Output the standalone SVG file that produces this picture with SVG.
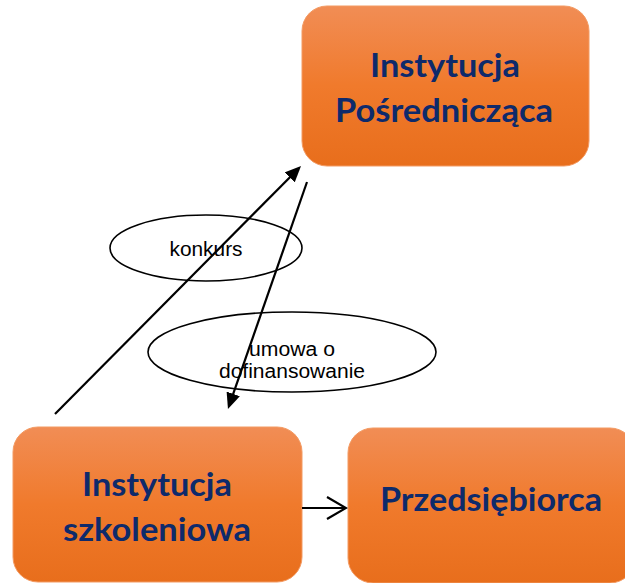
<svg xmlns="http://www.w3.org/2000/svg" width="625" height="583" viewBox="0 0 625 583">
  <defs>
    <linearGradient id="orange" x1="0" y1="0" x2="0" y2="1">
      <stop offset="0" stop-color="#F18D55"/>
      <stop offset="0.5" stop-color="#F07A2C"/>
      <stop offset="1" stop-color="#E86E1C"/>
    </linearGradient>
    <marker id="solid" viewBox="0 0 16 14" refX="8" refY="7" markerWidth="16" markerHeight="14" markerUnits="userSpaceOnUse" orient="auto">
      <path d="M0,0 L16,7 L0,14 z" fill="#000"/>
    </marker>
    <marker id="open" viewBox="0 0 22 24" refX="20" refY="12" markerWidth="22" markerHeight="24" markerUnits="userSpaceOnUse" orient="auto">
      <path d="M1,1 L20,12 L1,23" fill="none" stroke="#000" stroke-width="2.2"/>
    </marker>
  </defs>
  <style>
    .box { fill: url(#orange); stroke: #F39A62; stroke-width: 1; }
    .title { font-family: Lato, "Open Sans", "Liberation Sans", sans-serif; font-weight: bold; font-size: 33px; fill: #0E2A6B; text-anchor: middle; }
    .oval { fill: #fff; stroke: #000; stroke-width: 1.6; }
    .label { font-family: "Liberation Sans", Arial, sans-serif; font-size: 20px; fill: #000; text-anchor: middle; }
    .conn { stroke: #000; stroke-width: 2.2; fill: none; }
  </style>

  <g id="ip">
    <rect class="box" x="302" y="6" width="287" height="160" rx="25" ry="25"/>
    <text class="title" x="445" y="77" textLength="150" lengthAdjust="spacingAndGlyphs">Instytucja</text>
    <text class="title" x="444" y="122" textLength="218" lengthAdjust="spacingAndGlyphs">Pośrednicząca</text>
  </g>

  <g id="is">
    <rect class="box" x="13" y="427" width="289" height="155" rx="25" ry="25"/>
    <text class="title" x="157" y="496" textLength="150" lengthAdjust="spacingAndGlyphs">Instytucja</text>
    <text class="title" x="157" y="541" textLength="188" lengthAdjust="spacingAndGlyphs">szkoleniowa</text>
  </g>

  <g id="pr">
    <rect class="box" x="348" y="428" width="287" height="155" rx="25" ry="25"/>
    <text class="title" x="491" y="511" textLength="222" lengthAdjust="spacingAndGlyphs">Przedsiębiorca</text>
  </g>

  <g id="konkurs">
    <ellipse class="oval" cx="206" cy="248" rx="96" ry="33"/>
    <text class="label" x="206" y="256" font-size="21" textLength="73" lengthAdjust="spacingAndGlyphs">konkurs</text>
  </g>

  <g id="umowa">
    <ellipse class="oval" cx="292" cy="352" rx="144" ry="40"/>
    <text class="label" x="292" y="356" textLength="86" lengthAdjust="spacingAndGlyphs">umowa o</text>
    <text class="label" x="292" y="378" textLength="146" lengthAdjust="spacingAndGlyphs">dofinansowanie</text>
  </g>

  <g id="connectors">
    <line class="conn" x1="55" y1="414" x2="295.4" y2="171.7" marker-end="url(#solid)"/>
    <line class="conn" x1="307" y1="182" x2="230.6" y2="401.4" marker-end="url(#solid)"/>
    <line class="conn" x1="302" y1="508" x2="346" y2="508" marker-end="url(#open)"/>
  </g>
</svg>
